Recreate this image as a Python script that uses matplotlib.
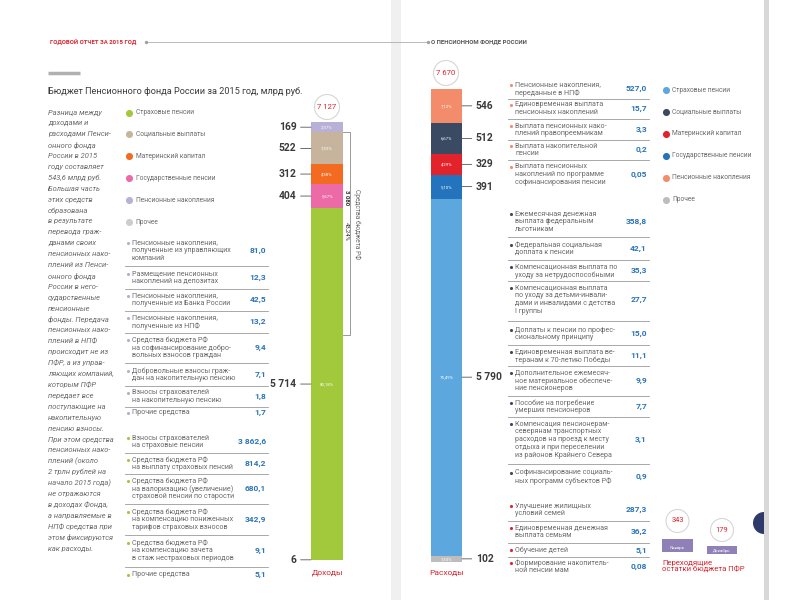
import matplotlib
matplotlib.use("Agg")
import matplotlib.pyplot as plt
from matplotlib.patches import Circle, Rectangle
import numpy as np

plt.rcParams['font.family'] = ['Roboto', 'DejaVu Sans']

# ---- data ----
categories = ['Пенсионные накопления', 'Социальные выплаты', 'Материнский капитал',
              'Государственные пенсии', 'Страховые пенсии', 'Прочее']
income = [169, 522, 312, 404, 5714, 6]
expense = [546, 512, 329, 391, 5790, 102]
income_pct = ['2,37%', '7,32%', '4,38%', '5,67%', '80,18%', '']
expense_pct = ['7,12%', '6,67%', '4,29%', '5,10%', '75,49%', '1,33%']
income_colors = ['#b8b0d6', '#c6b59c', '#f26b21', '#ec6aa6', '#a2c83c', '#cdcdcd']
expense_colors = ['#f38c6b', '#3a4a62', '#e3232c', '#2473bd', '#5ca8de', '#bdbdbd']
legend_order = [4, 1, 2, 3, 0, 5]

budget_funds = 3080
budget_funds_pct = '43,24%'

inc_accum_items = ['Пенсионные накопления,\nполученные из управляющих\nкомпаний',
                   'Размещение пенсионных\nнакоплений на депозитах',
                   'Пенсионные накопления,\nполученные из Банка России',
                   'Пенсионные накопления,\nполученные из НПФ',
                   'Средства бюджета РФ\nна софинансирование добро-\nвольных взносов граждан',
                   'Добровольные взносы граж-\nдан на накопительную пенсию',
                   'Взносы страхователей\nна накопительную пенсию',
                   'Прочие средства']
inc_accum_values = ['81,0', '12,3', '42,5', '13,2', '9,4', '7,1', '1,8', '1,7']

inc_insur_items = ['Взносы страхователей\nна страховые пенсии',
                   'Средства бюджета РФ\nна выплату страховых пенсий',
                   'Средства бюджета РФ\nна валоризацию (увеличение)\nстраховой пенсии по старости',
                   'Средства бюджета РФ\nна компенсацию пониженных\nтарифов страховых взносов',
                   'Средства бюджета РФ\nна компенсацию зачета\nв стаж нестраховых периодов',
                   'Прочие средства']
inc_insur_values = ['3 862,6', '814,2', '680,1', '342,9', '9,1', '5,1']

exp_accum_items = ['Пенсионные накопления,\nпереданные в НПФ',
                   'Единовременная выплата\nпенсионных накоплений',
                   'Выплата пенсионных нако-\nплений правопреемникам',
                   'Выплата накопительной\nпенсии',
                   'Выплата пенсионных\nнакоплений по программе\nсофинансирования пенсии']
exp_accum_values = ['527,0', '15,7', '3,3', '0,2', '0,05']

exp_social_items = ['Ежемесячная денежная\nвыплата федеральным\nльготникам',
                    'Федеральная социальная\nдоплата к пенсии',
                    'Компенсационная выплата по\nуходу за нетрудоспособными',
                    'Компенсационная выплата\nпо уходу за детьми-инвали-\nдами и инвалидами с детства\nI группы',
                    'Доплаты к пенсии по профес-\nсиональному принципу',
                    'Единовременная выплата ве-\nтеранам к 70-летию Победы',
                    'Дополнительное ежемесяч-\nное материальное обеспече-\nние пенсионеров',
                    'Пособие на погребение\nумерших пенсионеров',
                    'Компенсация пенсионерам-\nсеверянам транспортных\nрасходов на проезд к месту\nотдыха и при переселении\nиз районов Крайнего Севера',
                    'Софинансирование социаль-\nных программ субъектов РФ']
exp_social_values = ['358,8', '42,1', '35,3', '27,7', '15,0', '11,1', '9,9', '7,7', '3,1', '0,9']

exp_matcap_items = ['Улучшение жилищных\nусловий семей',
                    'Единовременная денежная\nвыплата семьям',
                    'Обучение детей',
                    'Формирование накопитель-\nной пенсии мам']
exp_matcap_values = ['287,3', '36,2', '5,1', '0,08']

carry_months = ['Январь', 'Декабрь']
carry_values = [343, 179]

note_lines = ['Разница между', 'доходами и', 'расходами Пенси-', 'онного фонда',
              'России в 2015', 'году составляет', '543,6 млрд руб.', 'Большая часть',
              'этих средств', 'образована', 'в результате', 'перевода граж-',
              'данами своих', 'пенсионных нако-', 'плений из Пенси-', 'онного фонда',
              'России в него-', 'сударственные', 'пенсионные', 'фонды. Передача',
              'пенсионных нако-', 'плений в НПФ', 'происходит не из', 'ПФР, а из управ-',
              'ляющих компаний,', 'которым ПФР', 'передает все', 'поступающие на',
              'накопительную', 'пенсию взносы.', 'При этом средства', 'пенсионных нако-',
              'плений (около', '2 трлн рублей на', 'начало 2015 года)', 'не отражаются',
              'в доходах Фонда,', 'а направляемые в', 'НПФ средства при', 'этом фиксируются',
              'как расходы.']

TXT = '#6a6a6a'
VAL = '#2c74b8'
RED = '#d9232e'
LINE_H = 7.8


def fmt(v):
    return f'{v:,}'.replace(',', ' ')


fig = plt.figure(figsize=(8, 6), dpi=100)
ax0 = fig.add_axes([0, 0, 1, 1])
ax0.set_xlim(0, 800)
ax0.set_ylim(600, 0)
ax0.axis('off')


def px_axes(x0, y0, x1, y1):
    return fig.add_axes([x0 / 800, 1 - y1 / 600, (x1 - x0) / 800, (y1 - y0) / 600])


# page decorations
ax0.axvspan(391, 401, color='#f0f0f0', lw=0)
ax0.axvspan(764, 770, color='#dcdcdc', lw=0)
ax0.add_patch(Circle((764, 523), 11, color='#2e3a6a', lw=0))
ax0.axvspan(764, 800, color='white', lw=0)
ax0.axvspan(764, 769, color='#d8d8d8', lw=0)

# header
ax0.text(50, 42, 'ГОДОВОЙ ОТЧЕТ ЗА 2015 ГОД', color=RED, fontsize=4.3, weight='bold', va='center')
ax0.plot([146, 428], [42, 42], color='#a0a0a0', lw=0.5)
ax0.scatter([146, 428], [42, 42], s=2, color='#a0a0a0')
ax0.text(431, 42, 'О ПЕНСИОННОМ ФОНДЕ РОССИИ', color='#555555', fontsize=4.3, weight='bold', va='center')
ax0.plot([48, 80], [73, 73], color='#b0b0b0', lw=2.5, solid_capstyle='butt')
ax0.text(48, 91, 'Бюджет Пенсионного фонда России за 2015 год, млрд руб.', color='#3a3a3a',
         fontsize=6.6, va='center')

# italic note
for i, line in enumerate(note_lines):
    ax0.text(48, 112.5 + i * 10.9, line, color=TXT, fontsize=5.4, style='italic', va='center')


def legend(x, y0, colors):
    for k, idx in enumerate(legend_order):
        y = y0 + k * 21.9
        ax0.scatter(x, y, s=26, color=colors[idx], lw=0)
        ax0.text(x + 6.5, y, categories[idx], color=TXT, fontsize=4.8, va='center')


legend(129, 112.5, income_colors)
legend(666, 90, expense_colors)


def item_list(items, values, ys, x_dot, x_val, color):
    for i, (txt, val) in enumerate(zip(items, values)):
        lines = txt.split('\n')
        y = ys[i]
        ax0.scatter(x_dot, y, s=5, color=color, lw=0)
        for k, ln in enumerate(lines):
            ax0.text(x_dot + 4, y + k * LINE_H, ln, color=TXT, fontsize=5.1, va='center')
        last = y + (len(lines) - 1) * LINE_H
        ax0.text(x_val, (y + last) / 2, val, color=VAL, fontsize=6, weight='bold',
                 ha='right', va='center')
        if i < len(items) - 1:
            yd = (last + ys[i + 1]) / 2
            ax0.plot([x_dot - 3, x_val + 2], [yd, yd], color='#9a9a9a', lw=0.6)


item_list(inc_accum_items, inc_accum_values, [243, 274, 296, 318, 340, 371, 393, 413], 128, 266, '#b4aed0')
item_list(inc_insur_items, inc_insur_values, [438, 460, 481, 512, 543, 575], 128, 266, '#a2c83c')
item_list(exp_accum_items, exp_accum_values, [85, 105, 126, 146, 167], 511, 647, expense_colors[0])
item_list(exp_social_items, exp_social_values,
          [214, 245, 267, 288, 330, 352, 373, 403, 424, 473], 511, 647, expense_colors[1])
item_list(exp_matcap_items, exp_matcap_values, [506, 528, 550, 563], 511, 647, expense_colors[2])


def stacked_bar(ax, values, colors, pcts, side):
    values = np.array(values)
    total = values.sum()
    tops = total - np.concatenate([[0], np.cumsum(values[:-1])])
    bottoms = tops - values
    ax.bar(np.zeros(len(values)), values, bottom=bottoms, width=1, color=colors, lw=0)
    ax.set_xlim(-0.5, 0.5)
    ax.set_ylim(0, total)
    ax.axis('off')
    edge = -0.5 if side == 'left' else 0.5
    off = -10.5 if side == 'left' else 10
    for v, b, p in zip(values, bottoms, pcts):
        mid = b + v / 2
        ax.annotate(fmt(int(v)), xy=(edge, mid), xytext=(off, 0), textcoords='offset points',
                    ha='right' if side == 'left' else 'left', va='center', fontsize=7.4,
                    weight='bold', color='#3a3a3a', annotation_clip=False,
                    arrowprops=dict(arrowstyle='-', color='#555555', lw=0.6, shrinkA=1, shrinkB=0))
        if p:
            ax.text(0, mid, p, color='white', fontsize=3.2, ha='center', va='center')
    return total


ax_in = px_axes(311, 122, 343, 560)
tot_in = stacked_bar(ax_in, income, income_colors, income_pct, 'left')
ax_out = px_axes(431, 89, 462, 562)
tot_out = stacked_bar(ax_out, expense, expense_colors, expense_pct, 'right')

# totals in bubbles
for (cx, cy), tot in [((327, 107), tot_in), ((446, 73), tot_out)]:
    ax0.add_patch(Circle((cx, cy), 12.5, facecolor='white', edgecolor='#d6d6d6', lw=0.8))
    ax0.text(cx, cy, fmt(int(tot)), color=RED, fontsize=5.6, ha='center', va='center')

ax0.text(327, 573, 'Доходы', color=RED, fontsize=6, ha='center', va='center')
ax0.text(447, 573, 'Расходы', color=RED, fontsize=6, ha='center', va='center')

# budget funds bracket
ax0.plot([343, 350, 350, 343], [132, 132, 335, 335], color='#8a8a8a', lw=0.6)
ax0.text(357, 224, 'Средства бюджета РФ', color=TXT, fontsize=4.8, rotation=-90,
         ha='center', va='center')
ax0.text(346.5, 198, fmt(budget_funds), color='#333333', fontsize=4.3, rotation=-90,
         ha='center', va='center', weight='bold')
ax0.text(346.5, 231, budget_funds_pct, color='#333333', fontsize=4.3, rotation=-90,
         ha='center', va='center')

# carry-over balances
for (bx, by, bw), (cy), m, v in zip([(662, 539, 31), (707, 546, 30)], [521, 530], carry_months, carry_values):
    ax0.add_patch(Rectangle((bx, by), bw, 13 if m == 'Январь' else 8, color='#8f80b8', lw=0))
    ax0.text(bx + bw / 2, by + (9 if m == 'Январь' else 5), m, color='white', fontsize=3.2,
             ha='center', va='center')
    ax0.add_patch(Circle((bx + bw / 2, cy), 11.5, facecolor='white', edgecolor='#d6d6d6', lw=0.8))
    ax0.text(bx + bw / 2, cy, str(v), color=RED, fontsize=5.4, ha='center', va='center')
ax0.text(662, 566, 'Переходящие\nостатки бюджета ПФР', color=RED, fontsize=5.6,
         va='center', linespacing=0.95)

fig.savefig('out.png', dpi=100)
